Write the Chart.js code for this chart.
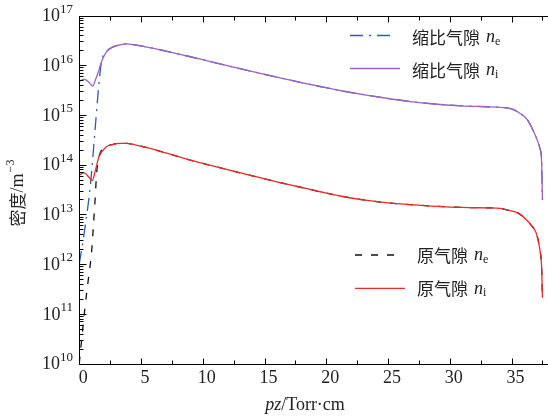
<!DOCTYPE html>
<html><head><meta charset="utf-8">
<script src="https://cdn.jsdelivr.net/npm/chart.js@4/dist/chart.umd.min.js"></script>
<style>html,body{margin:0;padding:0;background:#fff;}#wrap{width:548px;height:418px;}</style>
</head><body><div id="wrap"><canvas id="c" width="548" height="418"></canvas></div>
<script>
// ---- data (pz in Torr·cm, density in m^-3) ----
const pzScaledNi = [0, 0.4, 0.8, 1.1, 1.3, 1.55, 1.8, 2.2, 2.75, 3.3, 3.85, 4.5, 5.5, 7, 8.65, 10, 12, 14.05, 16, 18, 19.5, 21.1, 23, 25, 26.8, 29, 31, 33, 34.1, 35, 35.7, 36.3, 36.6, 37.0, 37.3, 37.43, 37.5];
const scaledNi   = [4.8e15, 5.2e15, 4.5e15, 3.8e15, 5.0e15, 7.4e15, 1.17e16, 1.86e16, 2.34e16, 2.57e16, 2.69e16, 2.57e16, 2.32e16, 1.93e16, 1.55e16, 1.29e16, 9.77e15, 7.41e15, 5.75e15, 4.47e15, 3.73e15, 3.10e15, 2.56e15, 2.14e15, 1.86e15, 1.64e15, 1.52e15, 1.46e15, 1.42e15, 1.32e15, 1.07e15, 7.9e14, 5.8e14, 3.5e14, 2.1e14, 1.2e14, 1.95e13];

const pzScaledNe = [0, 0.47, 0.92, 1.28, 1.55, 1.8, 2.2, 2.75, 3.3, 3.85, 4.5, 5.5, 7, 8.65, 10, 12, 14.05, 16, 18, 19.5, 21.1, 23, 25, 26.8, 29, 31, 33, 34.1, 35, 35.7, 36.3, 36.6, 37.0, 37.3, 37.43, 37.5];
const scaledNe   = [1.0e12, 5.5e12, 4.3e13, 5.0e14, 3.2e15, 1.17e16, 1.86e16, 2.34e16, 2.57e16, 2.69e16, 2.57e16, 2.32e16, 1.93e16, 1.55e16, 1.29e16, 9.77e15, 7.41e15, 5.75e15, 4.47e15, 3.73e15, 3.10e15, 2.56e15, 2.14e15, 1.86e15, 1.64e15, 1.52e15, 1.46e15, 1.42e15, 1.32e15, 1.07e15, 7.9e14, 5.8e14, 3.5e14, 2.1e14, 1.2e14, 1.95e13];

const pzOrigNi = [0, 0.4, 0.8, 1.05, 1.3, 1.6, 2.2, 2.75, 3.3, 3.85, 4.5, 5.5, 7, 8.7, 10, 12, 14.1, 16, 18, 19.5, 21.1, 23, 25, 26.8, 29, 31, 33, 34.1, 34.6, 35.5, 36.2, 36.6, 37.0, 37.3, 37.43, 37.5];
const origNi   = [6.2e13, 6.8e13, 5.5e13, 4.8e13, 7.6e13, 1.45e14, 2.29e14, 2.57e14, 2.69e14, 2.69e14, 2.51e14, 2.19e14, 1.72e14, 1.29e14, 1.06e14, 7.94e13, 5.89e13, 4.52e13, 3.47e13, 2.85e13, 2.34e13, 1.95e13, 1.70e13, 1.57e13, 1.45e13, 1.38e13, 1.35e13, 1.32e13, 1.23e13, 1.07e13, 7.8e12, 6.0e12, 4.2e12, 1.9e12, 8.9e11, 2.1e11];

const pzOrigNe = [0, 0.47, 0.73, 0.99, 1.14, 1.28, 1.41, 1.6, 2.2, 2.75, 3.3, 3.85, 4.5, 5.5, 7, 8.7, 10, 12, 14.1, 16, 18, 19.5, 21.1, 23, 25, 26.8, 29, 31, 33, 34.1, 34.6, 35.5, 36.2, 36.6, 37.0, 37.3, 37.43, 37.5];
const origNe   = [1.0e10, 1.38e11, 4.8e11, 1.66e12, 5.6e12, 1.95e13, 6.8e13, 1.45e14, 2.29e14, 2.57e14, 2.69e14, 2.69e14, 2.51e14, 2.19e14, 1.72e14, 1.29e14, 1.06e14, 7.94e13, 5.89e13, 4.52e13, 3.47e13, 2.85e13, 2.34e13, 1.95e13, 1.70e13, 1.57e13, 1.45e13, 1.38e13, 1.35e13, 1.32e13, 1.23e13, 1.07e13, 7.8e12, 6.0e12, 4.2e12, 1.9e12, 8.9e11, 2.1e11];

const xTickValues = [0, 5, 10, 15, 20, 25, 30, 35];
const yTickExponents = [10, 11, 12, 13, 14, 15, 16, 17];
const seriesNames = ['缩比气隙', '缩比气隙', '原气隙', '原气隙'];
const seriesSubs = ['e', 'i', 'e', 'i'];
const xTitle = ['pz', '/Torr·cm'];
const yTitle = ['密度', '/m', '−3'];

// ---- styling ----
const SERIF = '"Liberation Serif", "DejaVu Serif", serif';
const CJK = '"Noto Sans CJK SC", sans-serif';
const C_BLUE = '#2a5cb3', C_PURPLE = '#a062c0', C_BLACK = '#111111', C_RED = '#ea2a2a';

function mk(xs, ys, color, dash, w) {
  return { data: xs.map((v, i) => ({ x: v, y: ys[i] })), borderColor: color, borderWidth: w,
    borderDash: dash, pointRadius: 0, fill: false, cubicInterpolationMode: 'monotone' };
}
// index 0 drawn on top
const datasets = [
  mk(pzScaledNi, scaledNi, C_PURPLE, [], 1.3),
  mk(pzOrigNi, origNi, C_RED, [], 1.3),
  mk(pzScaledNe, scaledNe, C_BLUE, [13, 6, 2, 6], 1.3),
  mk(pzOrigNe, origNe, C_BLACK, [7, 9], 1.3),
];
// legend: [dataset index, line y, x0, x1, text x, text y]
const legendLayout = [[2, 35.5, 350, 393, 412, 37.5], [0, 68.5, 350, 400, 412, 70.5], [3, 255, 355, 398, 417, 255.5], [1, 288.3, 355, 405, 417, 289]];

function runsWidth(ctx, runs) { let w = 0; for (const r of runs) { ctx.font = r.font; w += ctx.measureText(r.t).width + (r.gap || 0); } return w; }
function drawRuns(ctx, runs, x, y) { // left-aligned, middle baseline
  let cx = x;
  for (const r of runs) { ctx.font = r.font; ctx.textBaseline = 'middle'; ctx.textAlign = 'left';
    ctx.fillText(r.t, cx, y + (r.dy || 0)); cx += ctx.measureText(r.t).width + (r.gap || 0); }
}

const decor = {
  id: 'decor',
  afterDraw(chart) {
    const { ctx, chartArea: a, scales: { x, y } } = chart;
    ctx.save();
    ctx.strokeStyle = '#000'; ctx.lineWidth = 1; ctx.setLineDash([]);
    const L = Math.round(a.left) + 0.5, B = Math.round(a.bottom) + 0.5, T = Math.round(a.top) + 0.5;
    ctx.beginPath();
    ctx.moveTo(L, T); ctx.lineTo(L, B); ctx.lineTo(a.right + 2, B);
    ctx.moveTo(L, T); ctx.lineTo(a.right + 2, T);
    // x ticks (major + minor), bottom and top
    for (let v = 0; v <= x.max + 1e-9; v += 2.5) {
      const px = Math.round(x.getPixelForValue(v)) + 0.5; const len = (v % 5 === 0) ? 6 : 4;
      ctx.moveTo(px, B); ctx.lineTo(px, B - len);
      ctx.moveTo(px, T); ctx.lineTo(px, T + len);
    }
    // y ticks
    for (const e of yTickExponents) {
      const py = Math.round(y.getPixelForValue(Math.pow(10, e))) + 0.5;
      ctx.moveTo(L, py); ctx.lineTo(L + 7, py);
      if (e < 17) for (let m = 2; m <= 9; m++) {
        const pm = Math.round(y.getPixelForValue(m * Math.pow(10, e))) + 0.5;
        ctx.moveTo(L, pm); ctx.lineTo(L + 4, pm);
      }
    }
    ctx.stroke();

    ctx.fillStyle = '#222';
    // y tick labels
    for (const e of yTickExponents) {
      const py = y.getPixelForValue(Math.pow(10, e));
      const runs = [{ t: '10', font: '18px ' + SERIF }, { t: String(e), font: '13px ' + SERIF, dy: -7 }];
      const w = runsWidth(ctx, runs);
      drawRuns(ctx, runs, 73 - w, py + 1);
    }
    // x tick labels
    ctx.font = '18px ' + SERIF; ctx.textAlign = 'center'; ctx.textBaseline = 'middle';
    for (const v of xTickValues) ctx.fillText(String(v), x.getPixelForValue(v) + 4, 378);
    // x title
    const xr = [{ t: xTitle[0], font: 'italic 18px ' + SERIF }, { t: xTitle[1], font: '18px ' + SERIF }];
    drawRuns(ctx, xr, 305 - runsWidth(ctx, xr) / 2, 405);
    // y title rotated
    ctx.save(); ctx.translate(18, 193); ctx.rotate(-Math.PI / 2);
    const yr = [{ t: yTitle[0], font: '17px ' + CJK }, { t: yTitle[1], font: '18px ' + SERIF, gap: 1 }, { t: yTitle[2], font: '12px ' + SERIF, dy: -7 }];
    drawRuns(ctx, yr, -runsWidth(ctx, yr) / 2, 0);
    ctx.restore();

    // legends
    for (const [di, ly, x0, x1, tx, ty] of legendLayout) {
      const d = chart.data.datasets[di];
      ctx.strokeStyle = d.borderColor; ctx.lineWidth = d.borderWidth; ctx.setLineDash(d.borderDash);
      ctx.beginPath(); ctx.moveTo(x0, ly); ctx.lineTo(x1, ly); ctx.stroke();
      ctx.setLineDash([]);
      ctx.fillStyle = '#222';
      const idx = [2, 0, 3, 1].indexOf(di);
      drawRuns(ctx, [{ t: seriesNames[idx], font: '17px ' + CJK, gap: 6 }, { t: 'n', font: 'italic 18px ' + SERIF }, { t: seriesSubs[idx], font: '12px ' + SERIF, dy: 4 }], tx, ty);
    }
    ctx.restore();
  }
};

new Chart(document.getElementById('c'), {
  type: 'line',
  data: { datasets },
  options: {
    responsive: false, animation: false, devicePixelRatio: 1,
    layout: { padding: { top: 15.5, right: 0, left: 0, bottom: 0 } },
    plugins: { legend: { display: false }, tooltip: { enabled: false } },
    scales: {
      x: { type: 'linear', min: 0, max: 37.95, grid: { display: false }, border: { display: false },
           ticks: { display: false }, afterFit: s => { s.height = 54.5; } },
      y: { type: 'logarithmic', min: 1e10, max: 1e17, grid: { display: false }, border: { display: false },
           ticks: { display: false }, afterFit: s => { s.width = 79.25; } }
    }
  },
  plugins: [decor]
});
</script></body></html>
